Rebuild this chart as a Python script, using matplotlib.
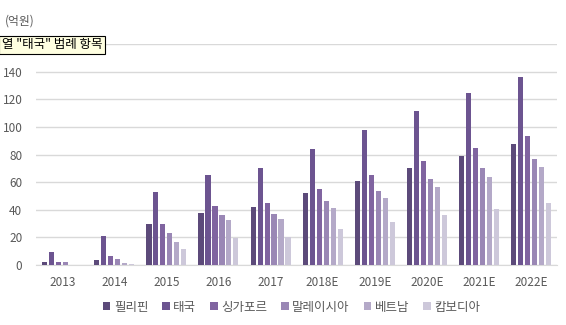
import numpy as np
import matplotlib
matplotlib.use("Agg")
import matplotlib.pyplot as plt
from matplotlib.ticker import MultipleLocator

plt.rcParams['font.family'] = ['Noto Sans CJK KR', 'DejaVu Sans']

years = ["2013", "2014", "2015", "2016", "2017", "2018E", "2019E", "2020E", "2021E", "2022E"]
countries = ["필리핀", "태국", "싱가포르", "말레이시아", "베트남", "캄보디아"]

philippines = [2.4, 3.6, 30.0, 37.8, 42.1, 52.3, 61.0, 70.5, 79.2, 87.9]
thailand = [9.4, 21.0, 53.0, 65.4, 70.5, 84.3, 98.1, 111.2, 124.2, 135.9]
singapore = [2.4, 6.5, 29.5, 42.9, 45.0, 55.2, 65.4, 75.6, 85.0, 93.7]
malaysia = [2.4, 4.4, 23.2, 36.3, 37.0, 46.5, 53.8, 62.5, 70.5, 77.0]
vietnam = [0.0, 1.7, 16.7, 32.7, 33.4, 41.4, 48.7, 56.7, 63.9, 71.2]
cambodia = [0.0, 0.7, 11.6, 19.4, 20.3, 26.2, 31.2, 36.3, 40.7, 45.0]

series = [philippines, thailand, singapore, malaysia, vietnam, cambodia]
colors = ['#5c4a7a', '#6c5490', '#8064a0', '#9a87b5', '#b4a9c8', '#cdc8da']

fig = plt.figure(figsize=(5.66, 3.25), dpi=100)
ax = fig.add_axes([0.064, 0.1846, 0.92, 0.68])

x = np.arange(len(years))
pitch = 0.134
width = 0.098
for i, (vals, c, name) in enumerate(zip(series, colors, countries)):
    ax.bar(x + (i - 2.5) * pitch, vals, width, color=c, label=name, zorder=3)

ax.set_xlim(-0.5, len(years) - 0.5)
ax.set_ylim(0, 160)
ax.yaxis.set_major_locator(MultipleLocator(20))
ax.set_yticks(range(0, 141, 20))
ax.set_xticks(x)
ax.set_xticklabels(years)
ax.axhline(160, color='#d9d9d9', linewidth=1.0, zorder=1)
ax.grid(axis='y', color='#d9d9d9', linewidth=1.0, zorder=1)
for s in ['top', 'right', 'left']:
    ax.spines[s].set_visible(False)
ax.spines['bottom'].set_color('#d9d9d9')
ax.tick_params(axis='both', length=0, labelsize=8.5, colors='#595959')
ax.tick_params(axis='y', pad=10)
ax.tick_params(axis='x', pad=8)

fig.text(0.009, 0.935, "(억원)", fontsize=8.5, color='#595959', va='center')
fig.text(0.003, 0.862, '열 "태국" 범례 항목', fontsize=9, color='black', va='center',
         bbox=dict(boxstyle='square,pad=0.2', facecolor='#ffffe1', edgecolor='black', linewidth=0.8))

leg = fig.legend(loc='lower center', bbox_to_anchor=(0.515, 0.0), ncol=6, frameon=False,
                 fontsize=9, handlelength=0.6, handleheight=0.6, handletextpad=0.3,
                 columnspacing=1.1)
for t in leg.get_texts():
    t.set_color('#595959')

fig.savefig("out.png", dpi=100)
